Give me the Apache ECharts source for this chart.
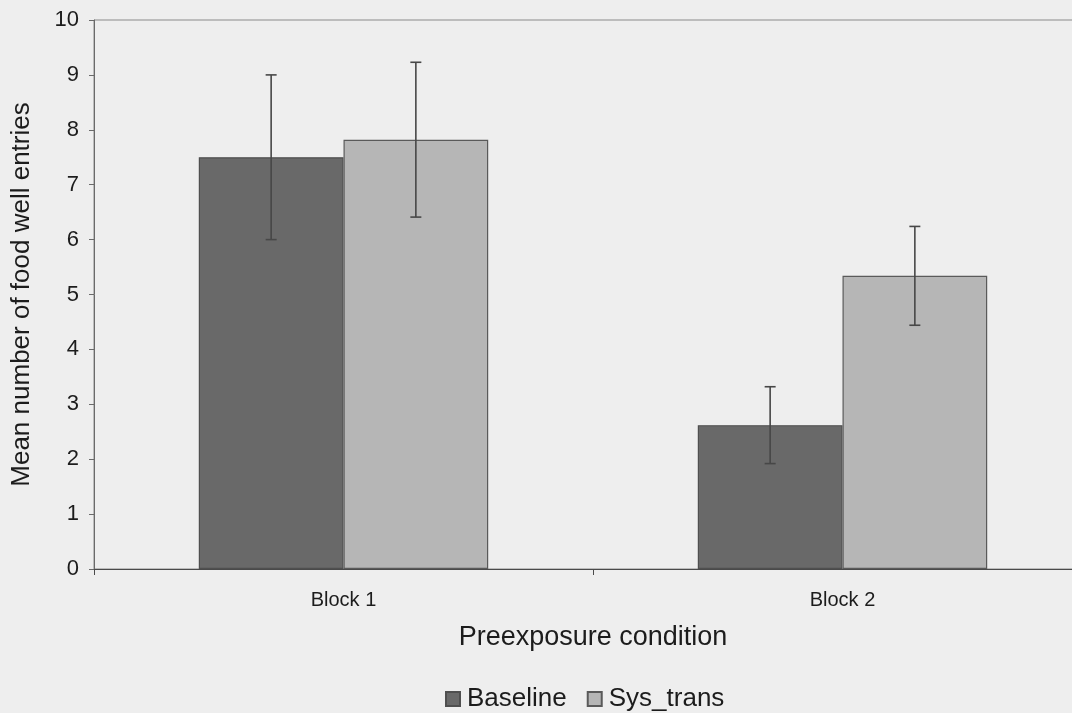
<!DOCTYPE html>
<html>
<head>
<meta charset="utf-8">
<script src="https://cdn.jsdelivr.net/npm/echarts@6/dist/echarts.min.js"></script>
<style>
  html, body { margin: 0; padding: 0; background: #eeeeee; overflow: hidden; }
  /* the plot runs past the right edge of the page, so the canvas is wider than the view */
  #chart { width: 1120px; height: 713px; }
</style>
</head>
<body>
<div id="chart"></div>
<script>
// Mean food well entries per block, with error bars
const categories = ['Block 1', 'Block 2'];
const seriesNames = ['Baseline', 'Sys_trans'];
const baselineMeans = [7.5, 2.62];
const baselineErr = [1.5, 0.7];
const sysTransMeans = [7.82, 5.34];
const sysTransErr = [1.41, 0.9];
const yTicks = [0, 1, 2, 3, 4, 5, 6, 7, 8, 9, 10];

const FONT = '"Liberation Sans", Arial, sans-serif';
const TEXT = '#1c1c1c';
const BAR_FRACTION = 0.29;

const chart = echarts.init(document.getElementById('chart'), null, { renderer: 'canvas' });

// Error bar drawing: vertical whisker with caps, offset to each bar's centre
function errorSeries(name, means, errs, side) {
  const data = means.map((m, i) => [i, m - errs[i], m + errs[i]]);
  return {
    type: 'custom',
    name: name + ' error',
    z: 5,
    silent: true,
    data: data,
    renderItem: function (params, api) {
      const idx = api.value(0);
      const band = api.size([1, 0])[0];
      const dx = side * band * BAR_FRACTION / 2;
      const lo = api.coord([idx, api.value(1)]);
      const hi = api.coord([idx, api.value(2)]);
      const x = lo[0] + dx;
      const cap = 5.5;
      const style = { stroke: '#474747', lineWidth: 1.6 };
      return {
        type: 'group',
        children: [
          { type: 'line', shape: { x1: x, y1: hi[1], x2: x, y2: lo[1] }, style: style },
          { type: 'line', shape: { x1: x - cap, y1: hi[1], x2: x + cap, y2: hi[1] }, style: style },
          { type: 'line', shape: { x1: x - cap, y1: lo[1], x2: x + cap, y2: lo[1] }, style: style }
        ]
      };
    }
  };
}

chart.setOption({
  backgroundColor: '#eeeeee',
  animation: false,
  textStyle: { fontFamily: FONT, color: TEXT },
  grid: {
    left: 94, top: 20, width: 998, height: 549,
    show: true, borderColor: '#8a8a8a', borderWidth: 1, backgroundColor: 'transparent'
  },
  legend: {
    data: seriesNames.map(n => ({ name: n })),
    left: 440,
    top: 681,
    padding: 5,
    itemWidth: 14, itemHeight: 14, itemGap: 20,
    icon: 'rect',
    textStyle: { fontFamily: FONT, fontSize: 26, color: TEXT, padding: [0, 0, 0, 2] }
  },
  xAxis: {
    type: 'category',
    data: categories,
    name: 'Preexposure condition',
    nameLocation: 'middle',
    nameGap: 55,
    nameTextStyle: { fontFamily: FONT, fontSize: 27, color: TEXT },
    axisLine: { lineStyle: { color: '#4a4a4a', width: 1 } },
    axisTick: { show: true, length: 6, lineStyle: { color: '#4a4a4a' } },
    axisLabel: { fontFamily: FONT, fontSize: 20, color: TEXT, margin: 21 },
    splitLine: { show: false }
  },
  yAxis: {
    type: 'value',
    min: yTicks[0],
    max: yTicks[yTicks.length - 1],
    interval: 1,
    name: 'Mean number of food well entries',
    nameLocation: 'middle',
    nameGap: 59,
    nameTextStyle: { fontFamily: FONT, fontSize: 26, color: TEXT },
    axisLine: { show: true, lineStyle: { color: '#6a6a6a', width: 1 } },
    axisTick: { show: true, length: 5, lineStyle: { color: '#6a6a6a' } },
    axisLabel: { fontFamily: FONT, fontSize: 22, color: TEXT, margin: 15 },
    splitLine: { show: false }
  },
  series: [
    {
      name: seriesNames[0],
      type: 'bar',
      data: baselineMeans,
      barWidth: (BAR_FRACTION * 100) + '%',
      barGap: '0%',
      itemStyle: { color: '#696969', borderColor: '#4f4f4f', borderWidth: 1.2 }
    },
    {
      name: seriesNames[1],
      type: 'bar',
      data: sysTransMeans,
      barWidth: (BAR_FRACTION * 100) + '%',
      barGap: '0%',
      itemStyle: { color: '#b6b6b6', borderColor: '#5a5a5a', borderWidth: 1.2 }
    },
    errorSeries(seriesNames[0], baselineMeans, baselineErr, -1),
    errorSeries(seriesNames[1], sysTransMeans, sysTransErr, 1)
  ]
});
</script>
</body>
</html>
